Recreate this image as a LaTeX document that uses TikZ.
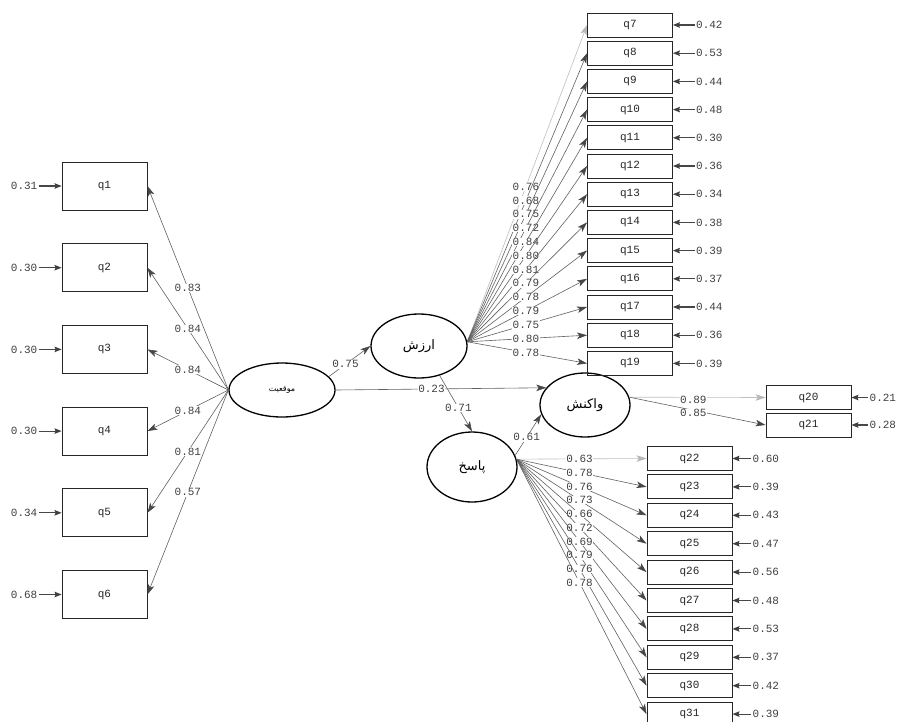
\documentclass[tikz,border=0pt]{standalone}
\usepackage{fontspec}
\setmonofont{Liberation Mono}
\newfontfamily\arabicfont[Script=Arabic]{DejaVu Sans}
\TeXXeTstate=1
\usetikzlibrary{shapes.geometric,arrows.meta,positioning}
\tikzset{
  mono/.style={font=\ttfamily\fontsize{11}{12}\selectfont},
  obs/.style={draw=black!85, line width=0.9pt, minimum width=85pt, minimum height=24pt, inner sep=0pt, mono, text=black!85},
  obsL/.style={obs, minimum height=48pt},
  lat/.style={ellipse, draw=black, line width=1.3pt, inner sep=0pt},
  load/.style={draw=black!62, line width=0.6pt, -{Stealth[length=10pt,width=6.5pt,inset=2.5pt,color=black!72]}},
  fixedload/.style={draw=black!25, line width=0.6pt, -{Stealth[length=10pt,width=6.5pt,inset=2.5pt,color=black!28]}},
  lbl/.style={fill=white, inner sep=0.6pt, mono, text=black!75},
  err/.style={inner sep=1pt, mono, text=black!75},
  errarrow/.style={draw=black!72, line width=1.1pt, -{Stealth[length=7pt,width=5.5pt,inset=1pt,color=black!75]}},
}
\begin{document}
\begin{tikzpicture}[x=1pt,y=-1pt]
\fill[white] (0,0) rectangle (903,721);
\useasboundingbox (0,0) rectangle (903,721);

% latent variables
\node[lat, minimum width=106pt, minimum height=54pt] (M) at (282,390) {\arabicfont\fontsize{8}{9}\selectfont\beginR موقعیت\endR};
\node[lat, minimum width=96pt, minimum height=64pt] (A) at (419,346) {\arabicfont\fontsize{13}{14}\selectfont\beginR ارزش\endR};
\node[lat, minimum width=90pt, minimum height=64pt] (V) at (585,405) {\arabicfont\fontsize{13}{14}\selectfont\beginR واکنش\endR};
\node[lat, minimum width=90pt, minimum height=70pt] (P) at (472,467) {\arabicfont\fontsize{13}{14}\selectfont\beginR پاسخ\endR};

% structural paths
\draw[load] (M.16) -- node[lbl, pos=0.4] {0.75} (A.west);
\draw[load] (M.east) -- node[lbl, pos=0.455] {0.23} (V.156);
\draw[load] (A.-55) -- node[lbl, pos=0.58] {0.71} (P.north);
\draw[load] (P.15) -- node[lbl, pos=0.44] {0.61} (V.192);

% mowqeiyat indicators (left)
\foreach \i/\v/\e [count=\k from 0] in {1/0.83/0.31, 2/0.84/0.30, 3/0.84/0.30, 4/0.84/0.30, 5/0.81/0.34, 6/0.57/0.68}{
  \node[obsL] (q\i) at (104.5,{186+81.7*\k}) {q\i};
  \node[err, left=23pt of q\i] (e\i) {\e};
  \draw[errarrow] (e\i.east) -- (q\i.west);
  \draw[load] (M.west) -- node[lbl, pos=0.5] {\v} (q\i.east);
}

% arzesh indicators
\foreach \i/\v/\e [count=\k from 0] in {7/0.76/0.42, 8/0.68/0.53, 9/0.75/0.44, 10/0.72/0.48, 11/0.84/0.30, 12/0.80/0.36, 13/0.81/0.34, 14/0.79/0.38, 15/0.78/0.39, 16/0.79/0.37, 17/0.75/0.44, 18/0.80/0.36, 19/0.78/0.39}{
  \node[obs] (q\i) at (630,{25+28.2*\k}) {q\i};
  \node[err, right=22pt of q\i] (e\i) {\e};
  \draw[errarrow] (e\i.west) -- (q\i.east);
}
\draw[fixedload] (A.5) -- node[lbl, pos=0.49] {0.76} (q7.west);
\foreach \i/\v in {8/0.68, 9/0.75, 10/0.72, 11/0.84, 12/0.80, 13/0.81, 14/0.79, 15/0.78, 16/0.79, 17/0.75, 18/0.80, 19/0.78}{
  \draw[load] (A.5) -- node[lbl, pos=0.49] {\v} (q\i.west);
}

% vakonesh indicators
\node[obs] (q20) at (808.5,397.5) {q20};
\node[obs] (q21) at (808.5,425) {q21};
\node[err, right=17pt of q20] (e20) {0.21};
\node[err, right=17pt of q21] (e21) {0.28};
\draw[errarrow] (e20.west) -- (q20.east);
\draw[errarrow] (e21.west) -- (q21.east);
\draw[fixedload] (V.10) -- node[lbl, pos=0.47, yshift=-3pt] {0.89} (q20.west);
\draw[load] (V.10) -- node[lbl, pos=0.47, yshift=-3pt] {0.85} (q21.west);

% pasokh indicators
\foreach \i/\v/\e [count=\k from 0] in {22/0.63/0.60, 23/0.78/0.39, 24/0.76/0.43, 25/0.73/0.47, 26/0.66/0.56, 27/0.72/0.48, 28/0.69/0.53, 29/0.79/0.37, 30/0.76/0.42, 31/0.78/0.39}{
  \node[obs] (q\i) at (689.5,{458.5+28.4*\k}) {q\i};
  \node[err, right=19pt of q\i] (e\i) {\e};
  \draw[errarrow] (e\i.west) -- (q\i.east);
}
\draw[fixedload] (P.10) -- node[lbl, pos=0.485] {0.63} (q22.west);
\foreach \i/\v in {23/0.78, 24/0.76, 25/0.73, 26/0.66, 27/0.72, 28/0.69, 29/0.79, 30/0.76, 31/0.78}{
  \draw[load] (P.10) -- node[lbl, pos=0.485] {\v} (q\i.west);
}
\end{tikzpicture}
\end{document}
